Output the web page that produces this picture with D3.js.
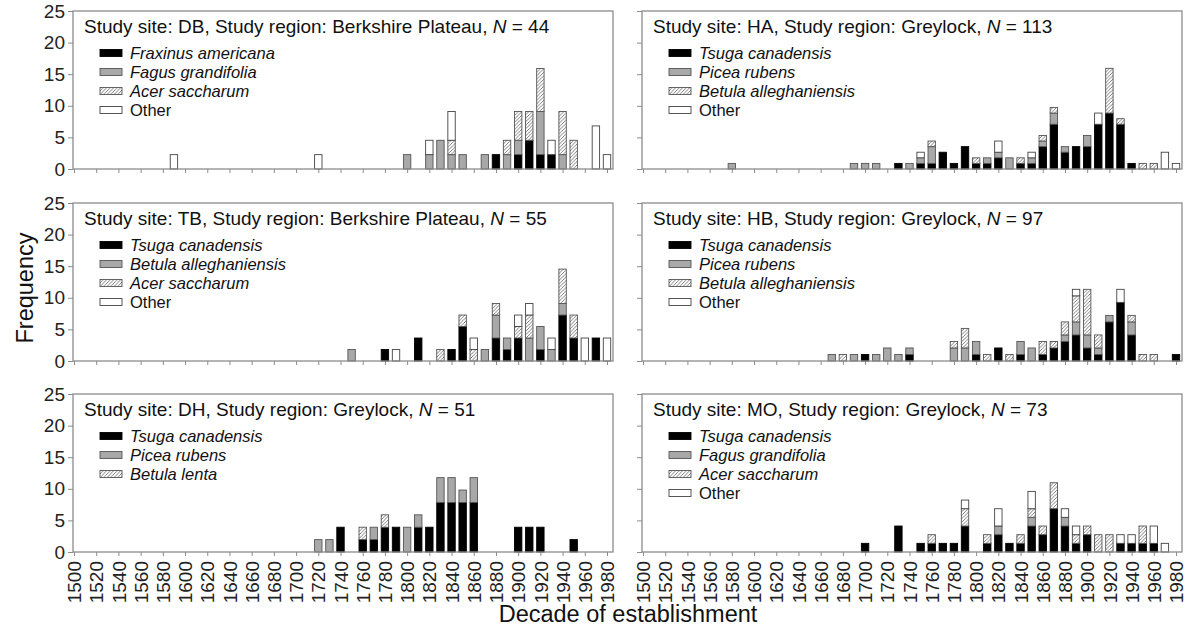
<!DOCTYPE html>
<html>
<head>
<meta charset="utf-8">
<script src="https://cdn.jsdelivr.net/npm/d3@7"></script>
<style>
  body { margin: 0; background: #fff; }
  text { font-family: "Liberation Sans", Arial, Helvetica, sans-serif; }
</style>
</head>
<body>
<script>
var width = 1186, height = 631;

var decadeTicks = d3.range(1500, 1981, 20);
var freqTicks = [0, 5, 10, 15, 20, 25];

// species legend per site (order = black, grey, hatched, white)
var dbSpecies = ["Fraxinus americana", "Fagus grandifolia", "Acer saccharum", "Other"];
var haSpecies = ["Tsuga canadensis", "Picea rubens", "Betula alleghaniensis", "Other"];
var tbSpecies = ["Tsuga canadensis", "Betula alleghaniensis", "Acer saccharum", "Other"];
var hbSpecies = ["Tsuga canadensis", "Picea rubens", "Betula alleghaniensis", "Other"];
var dhSpecies = ["Tsuga canadensis", "Picea rubens", "Betula lenta"];
var moSpecies = ["Tsuga canadensis", "Fagus grandifolia", "Acer saccharum", "Other"];

// [decade, count sp1, count sp2, count sp3, count other]
var dbCounts = [[1590,0,0,0,1],[1720,0,0,0,1],[1800,0,1,0,0],[1820,0,1,0,1],[1830,0,2,0,0],
  [1840,0,1,1,2],[1850,0,1,0,0],[1870,0,1,0,0],[1880,1,0,0,0],[1890,0,1,1,0],[1900,1,1,2,0],
  [1910,2,0,2,0],[1920,1,3,3,0],[1930,1,0,0,1],[1940,0,1,3,0],[1950,0,0,2,0],[1970,0,0,0,3],
  [1980,0,0,0,1]];
var haCounts = [[1580,0,1,0,0],[1690,0,1,0,0],[1700,0,1,0,0],[1710,0,1,0,0],[1730,1,0,0,0],
  [1740,0,1,0,0],[1750,1,1,0,1],[1760,1,3,1,0],[1770,3,0,0,0],[1780,1,0,0,0],[1790,4,0,0,0],
  [1800,1,0,1,0],[1810,1,1,0,0],[1820,2,1,0,2],[1830,0,2,0,0],[1840,1,0,1,0],[1850,1,1,0,1],
  [1860,4,1,1,0],[1870,8,2,1,0],[1880,3,1,0,0],[1890,4,0,0,0],[1900,4,2,0,0],[1910,8,0,0,2],
  [1920,10,0,8,0],[1930,8,0,1,0],[1940,1,0,0,0],[1950,0,0,1,0],[1960,0,0,1,0],[1970,0,0,0,3],
  [1980,0,0,0,1]];
var tbCounts = [[1750,0,1,0,0],[1780,1,0,0,0],[1790,0,0,0,1],[1810,2,0,0,0],[1830,0,0,1,0],
  [1840,1,0,0,0],[1850,3,0,1,0],[1860,0,0,1,1],[1870,0,1,0,0],[1880,2,2,1,0],[1890,1,1,0,0],
  [1900,2,0,1,1],[1910,0,2,2,1],[1920,1,2,0,0],[1930,0,1,0,1],[1940,4,1,3,0],[1950,2,0,2,0],
  [1960,0,0,0,2],[1970,2,0,0,0],[1980,0,0,0,2]];
var hbCounts = [[1670,0,1,0,0],[1680,0,0,1,0],[1690,0,1,0,0],[1700,1,0,0,0],[1710,0,1,0,0],
  [1720,0,2,0,0],[1730,0,1,0,0],[1740,1,1,0,0],[1780,0,2,1,0],[1790,0,2,3,0],[1800,1,2,0,0],
  [1810,0,0,1,0],[1820,2,0,0,0],[1830,0,0,1,0],[1840,1,2,0,0],[1850,0,2,0,0],[1860,1,0,2,0],
  [1870,2,0,1,0],[1880,3,1,2,0],[1890,4,2,4,1],[1900,2,2,7,0],[1910,1,1,2,0],[1920,6,1,0,0],
  [1930,9,0,0,2],[1940,4,2,1,0],[1950,0,0,1,0],[1960,0,0,1,0],[1980,1,0,0,0]];
var dhCounts = [[1720,0,1,0],[1730,0,1,0],[1740,2,0,0],[1760,1,0,1],[1770,1,1,0],[1780,2,0,1],
  [1790,2,0,0],[1800,0,2,0],[1810,2,1,0],[1820,2,0,0],[1830,4,2,0],[1840,4,2,0],[1850,4,1,0],
  [1860,4,2,0],[1900,2,0,0],[1910,2,0,0],[1920,2,0,0],[1950,1,0,0]];
var moCounts = [[1700,1,0,0,0],[1730,3,0,0,0],[1750,1,0,0,0],[1760,1,0,1,0],[1770,1,0,0,0],
  [1780,1,0,0,0],[1790,3,0,2,1],[1810,1,0,1,0],[1820,2,1,0,2],[1830,1,0,0,0],[1840,1,0,1,0],
  [1850,3,1,1,2],[1860,2,0,1,0],[1870,5,0,3,0],[1880,3,1,0,1],[1890,1,0,1,1],[1900,2,0,1,0],
  [1910,0,0,2,0],[1920,0,0,2,0],[1930,1,0,0,1],[1940,1,0,0,1],[1950,1,0,2,0],[1960,1,0,0,2],
  [1970,0,0,0,1]];

var panels = [
  {site: "DB", region: "Berkshire Plateau", n: 44,  species: dbSpecies, counts: dbCounts, col: 0, row: 0},
  {site: "HA", region: "Greylock",          n: 113, species: haSpecies, counts: haCounts, col: 1, row: 0},
  {site: "TB", region: "Berkshire Plateau", n: 55,  species: tbSpecies, counts: tbCounts, col: 0, row: 1},
  {site: "HB", region: "Greylock",          n: 97,  species: hbSpecies, counts: hbCounts, col: 1, row: 1},
  {site: "DH", region: "Greylock",          n: 51,  species: dhSpecies, counts: dhCounts, col: 0, row: 2},
  {site: "MO", region: "Greylock",          n: 73,  species: moSpecies, counts: moCounts, col: 1, row: 2}
];

var colLeft = [73, 642];
var rowTop = [11, 203, 394];
var panelW = 540, plotH = 158;
var barW = 7.4;
var fills = ["#000", "#a8a8a8", "url(#hatch)", "#fff"];
var strokes = ["#000", "#555", "#555", "#444"];
var frameColor = "#8c8c8c";

var svg = d3.select("body").append("svg")
    .attr("width", width)
    .attr("height", height);

var pat = svg.append("defs").append("pattern")
    .attr("id", "hatch")
    .attr("patternUnits", "userSpaceOnUse")
    .attr("width", 3.5)
    .attr("height", 3.5);
pat.append("rect").attr("width", 3.5).attr("height", 3.5).attr("fill", "#fff");
pat.append("path")
    .attr("d", "M0,3.5 L3.5,0 M-1,1 L1,-1 M2.5,4.5 L4.5,2.5")
    .attr("stroke", "#666")
    .attr("stroke-width", 0.85);

var x = d3.scaleLinear().domain([1500, 1980]).range([1, 534]);
var y = d3.scaleLinear().domain([0, 25]).range([plotH, 0]);

panels.forEach(function (p) {
    var g = svg.append("g")
        .attr("transform", "translate(" + colLeft[p.col] + "," + rowTop[p.row] + ")");

    // x axis
    var xAxis = d3.axisBottom(x).tickValues(decadeTicks).tickSize(4).tickSizeOuter(0);
    if (p.row < 2) xAxis.tickFormat(function () { return ""; });
    else xAxis.tickFormat(d3.format("d"));
    var xg = g.append("g").attr("transform", "translate(0," + plotH + ")").call(xAxis);
    xg.select(".domain").remove();
    xg.selectAll("line").attr("stroke", frameColor);
    xg.selectAll("text")
        .attr("transform", "rotate(-90)")
        .attr("x", -9)
        .attr("y", 0)
        .attr("dy", "0.35em")
        .style("text-anchor", "end")
        .style("font-size", "19px")
        .style("font-family", "Liberation Sans, Arial, sans-serif")
        .attr("fill", "#222");

    // y axis
    var yAxis = d3.axisLeft(y).tickValues(freqTicks).tickSize(5).tickSizeOuter(0);
    if (p.col == 1) yAxis.tickFormat(function () { return ""; });
    var yg = g.append("g").call(yAxis);
    yg.select(".domain").remove();
    yg.selectAll("line").attr("stroke", frameColor);
    yg.selectAll("text")
        .attr("x", -8)
        .style("font-size", "19px")
        .style("font-family", "Liberation Sans, Arial, sans-serif")
        .attr("fill", "#222");

    // stacked bars (percent of N)
    var keys = d3.range(1, p.species.length + 1);
    var series = d3.stack()
        .keys(keys)
        .value(function (d, k) { return d[k] / p.n * 100; })(p.counts);

    g.selectAll(".layer")
        .data(series)
        .enter().append("g")
        .attr("class", "layer")
        .attr("fill", function (s, i) { return fills[i]; })
        .attr("stroke", function (s, i) { return strokes[i]; })
        .selectAll("rect")
        .data(function (s) { return s.filter(function (d) { return d[1] > d[0]; }); })
        .enter().append("rect")
        .attr("x", function (d) { return x(d.data[0]) - barW / 2; })
        .attr("y", function (d) { return y(d[1]); })
        .attr("width", barW)
        .attr("height", function (d) { return y(d[0]) - y(d[1]); })
        .attr("stroke-width", 0.9);

    // frame
    g.append("rect")
        .attr("width", panelW)
        .attr("height", plotH)
        .attr("fill", "none")
        .attr("stroke", frameColor)
        .attr("stroke-width", 1.3);

    // title
    var t = g.append("text")
        .attr("x", 11)
        .attr("y", 22)
        .style("font-size", "19px")
        .attr("fill", "#111");
    t.append("tspan").text("Study site: " + p.site + ", Study region: " + p.region + ", ");
    t.append("tspan").style("font-style", "italic").text("N");
    t.append("tspan").text(" = " + p.n);

    // legend
    var leg = g.selectAll(".leg")
        .data(p.species)
        .enter().append("g")
        .attr("class", "leg")
        .attr("transform", function (d, i) { return "translate(27," + (42 + i * 19) + ")"; });
    leg.append("rect")
        .attr("x", 0)
        .attr("y", -3.5)
        .attr("width", 22)
        .attr("height", 7)
        .attr("fill", function (d, i) { return fills[i]; })
        .attr("stroke", function (d, i) { return strokes[i]; })
        .attr("stroke-width", 0.9);
    leg.append("text")
        .attr("x", 30)
        .attr("y", 6)
        .style("font-size", "16.5px")
        .style("font-style", function (d) { return d == "Other" ? "normal" : "italic"; })
        .attr("fill", "#111")
        .text(function (d) { return d; });
});

// axis titles
svg.append("text")
    .attr("transform", "translate(33,288) rotate(-90)")
    .attr("text-anchor", "middle")
    .style("font-size", "23.5px")
    .attr("fill", "#111")
    .text("Frequency");

svg.append("text")
    .attr("x", 628)
    .attr("y", 622)
    .attr("text-anchor", "middle")
    .style("font-size", "23.5px")
    .attr("fill", "#111")
    .text("Decade of establishment");
</script>
</body>
</html>
